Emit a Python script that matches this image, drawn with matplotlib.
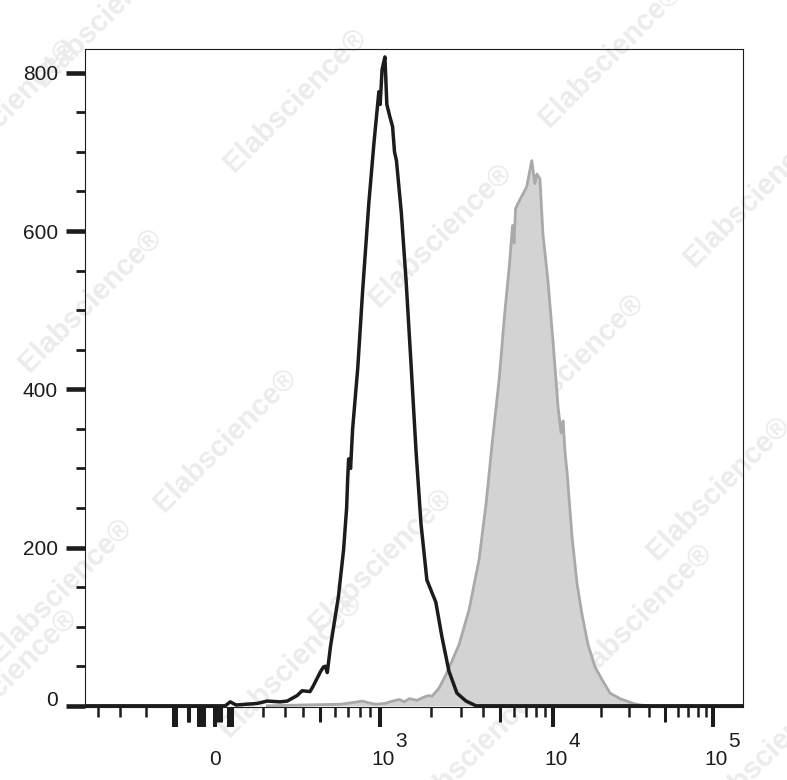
import numpy as np
import matplotlib
matplotlib.use("Agg")
import matplotlib.pyplot as plt
from matplotlib.transforms import ScaledTranslation, blended_transform_factory

plt.rcParams["font.family"] = ["Liberation Sans", "DejaVu Sans"]

# control sample (black outline), fluorescence intensity vs. count
ctrl_x = [-680, 40, 60, 84, 173, 217, 278, 313, 365, 392, 438, 457, 502, 521,
          534, 547, 569, 626, 665, 689, 697, 705, 721, 738, 782, 826, 884, 934,
          986, 1000, 1027, 1069, 1098, 1143, 1189, 1221, 1254, 1341, 1432, 1531,
          1637, 1750, 1894, 2134, 2311, 2539, 2825, 3185, 3637, 154000]
ctrl_y = [0, 0, 5, 1, 3, 6, 5, 6, 13, 19, 18, 25, 43, 49,
          50, 42, 75, 138, 197, 250, 285, 312, 300, 350, 427, 525, 635, 710,
          776, 760, 804, 820, 760, 745, 732, 700, 689, 623, 536, 431,
          322, 230, 159, 131, 88, 44, 16, 6, 0, 0]

# stained sample (grey filled)
stain_x = [217, 381, 642, 782, 826, 874, 955, 1069, 1189, 1305, 1395, 1491,
           1659, 1820, 1945, 2025, 2222, 2439, 2901, 3313, 3784, 4155, 4500,
           4939, 5279, 5642, 5873, 5990, 6111, 6278, 7075, 7560, 7870, 8082,
           8412, 8754, 9357, 10000, 10746, 11220, 11548, 11885, 12232, 13147,
           14125, 15180, 16553, 18302, 20244, 22717, 26238, 31623, 34992, 40406]
stain_y = [0, 1, 2, 5, 6, 4, 2, 3, 6, 8, 5, 9,
           7, 11, 13, 12, 22, 39, 77, 121, 185, 257, 333,
           415, 492, 558, 607, 585, 628, 634, 656, 689, 660, 672,
           666, 596, 536, 459, 377, 345, 360, 320, 295, 213,
           154, 115, 77, 49, 33, 16, 9, 3, 1, 0]

# axis ticks
x_label_ticks = [0, 1e3, 1e4, 1e5]
x_label_base = ["0", "10", "10", "10"]
x_label_exp = ["", "3", "4", "5"]
x_long_ticks = [-170, -160, -65, -55, -45, 55, 68]
x_mid_ticks = [500, 5e3, 5e4, -112, -104, 12, 22]
x_short_ticks = [-580, -440, -300, 200, 300, 400, 600, 700, 800, 900,
                 2e3, 3e3, 4e3, 6e3, 7e3, 8e3, 9e3,
                 2e4, 3e4, 4e4, 6e4, 7e4, 8e4, 9e4]
y_major = [0, 200, 400, 600, 800]
y_minor = [50, 100, 150, 250, 300, 350, 450, 500, 550, 650, 700, 750]

# biexponential-like display scale
W = 400.0
KNOT_V = np.array([-1e6, -1e3, 0.0, 1e3, 1e4, 1e5, 1e6])
KNOT_U = np.array([-3.9, -1.0, 0.0, 1.0, 2.0485, 3.018, 3.988])
KNOT_A = np.arcsinh(KNOT_V / W)


def fwd(x):
    return np.interp(np.arcsinh(np.asarray(x, dtype=float) / W), KNOT_A, KNOT_U)


def inv(u):
    return W * np.sinh(np.interp(np.asarray(u, dtype=float), KNOT_U, KNOT_A))


def px(dx, dy):
    # offset in screen pixels (dpi 100)
    return ScaledTranslation(dx / 100, dy / 100, fig.dpi_scale_trans)


W_PX, H_PX = 787, 780
fig = plt.figure(figsize=(W_PX / 100, H_PX / 100), dpi=100)
fig.patch.set_facecolor("white")

# watermark
marks = [(105, 15), (295, 100), (610, 55), (5, 110), (440, 235), (755, 195),
         (90, 300), (572, 365), (225, 440), (718, 488), (380, 560), (60, 590),
         (640, 615), (290, 665), (475, 750), (5, 680), (770, 750)]
for mx, my in marks:
    fig.text(mx / W_PX, 1 - my / H_PX, "Elabscience\u00ae", rotation=45,
             ha="center", va="center", fontsize=21, fontweight="bold",
             color="#ececec", zorder=0)

ax = fig.add_axes([85 / W_PX, 1 - 707 / H_PX, (743 - 85) / W_PX, (707 - 49) / H_PX])
ax.set_zorder(1)
ax.patch.set_alpha(0)

ax.set_xscale("function", functions=(fwd, inv))
ax.set_xlim(-680, 1.54e5)
ax.set_ylim(-1.5, 830)

ax.fill_between(stain_x, stain_y, 0, color="#d3d3d3", lw=0, zorder=2)
ax.plot(stain_x, stain_y, color="#a9a9a9", lw=2.0, zorder=3)
ax.plot(ctrl_x, ctrl_y, color="#1c1c1c", lw=2.5, zorder=4)

for s in ax.spines.values():
    s.set_linewidth(0.8)
    s.set_color("#1c1c1c")

# y axis
ax.set_yticks(y_major)
ax.set_yticks(y_minor, minor=True)
ax.tick_params(axis="y", which="major", length=13.5, width=3.3, pad=6,
               labelsize=15, color="#1c1c1c", labelcolor="#1c1c1c")
ax.tick_params(axis="y", which="minor", length=6.5, width=2, color="#1c1c1c")

# x axis: long and short ticks
ax.set_xticks(x_label_ticks + x_long_ticks,
              x_label_base + [""] * len(x_long_ticks))
ax.set_xticks(x_short_ticks, minor=True)
ax.tick_params(axis="x", which="major", length=14.5, width=2.9, pad=27,
               labelsize=15, color="#1c1c1c", labelcolor="#1c1c1c")
ax.tick_params(axis="x", which="minor", length=7.5, width=1.8, color="#1c1c1c")

# medium ticks on a twin axis
ax2 = ax.twiny()
ax2.set_xscale("function", functions=(fwd, inv))
ax2.set_xlim(ax.get_xlim())
ax2.xaxis.set_ticks_position("bottom")
ax2.set_xticks(x_mid_ticks, [""] * len(x_mid_ticks))
ax2.tick_params(axis="x", which="major", length=11, width=2.2, color="#1c1c1c")
ax2.tick_params(axis="x", which="minor", bottom=False, top=False)
for s in ax2.spines.values():
    s.set_visible(False)

# tick labels: "10" plus a full-size raised exponent
xtrans = blended_transform_factory(ax.transData, ax.transAxes)
for val, lbl, ex in zip(x_label_ticks, ax.get_xticklabels(), x_label_exp):
    lbl.set_va("baseline")
    if ex:
        lbl.set_transform(lbl.get_transform() + px(3, 0))
        ax.text(val, 0, ex, transform=xtrans + px(15, -40), ha="left",
                va="baseline", fontsize=15, color="#1c1c1c", clip_on=False)
ylab0 = ax.get_yticklabels()[0]
ylab0.set_transform(ylab0.get_transform() + px(0, 7))

fig.savefig("out.png", dpi=100)
